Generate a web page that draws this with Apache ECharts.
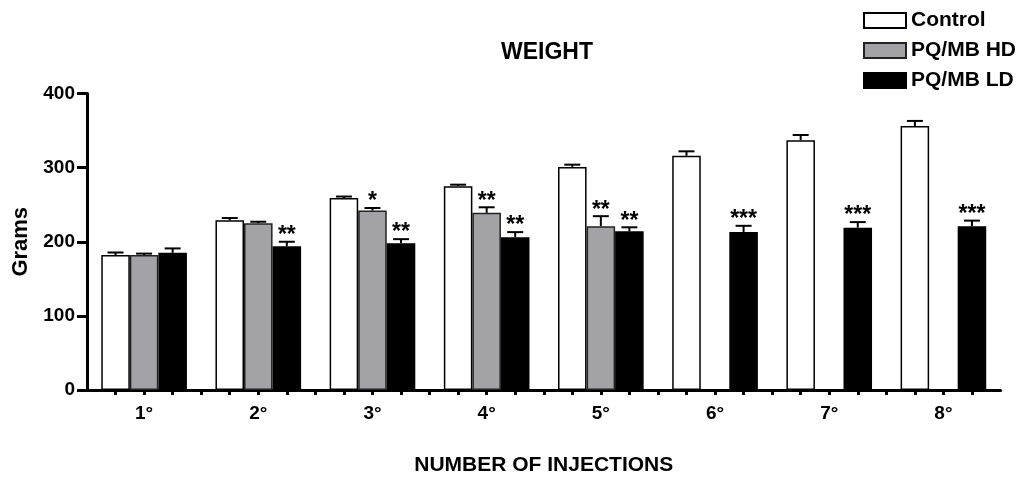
<!DOCTYPE html>
<html>
<head>
<meta charset="utf-8">
<script src="https://cdn.jsdelivr.net/npm/echarts@6/dist/echarts.min.js"></script>
<style>
html, body { margin: 0; background: #fff; }
#chart { width: 1026px; height: 493px; }
</style>
</head>
<body>
<div id="chart"></div>
<script>
var injections = ['1°', '2°', '3°', '4°', '5°', '6°', '7°', '8°'];
var seriesNames = ['Control', 'PQ/MB HD', 'PQ/MB LD'];

var control    = [182, 229, 259, 275, 301, 316, 337, 356];
var controlErr = [3.5, 3, 2, 2, 3, 6, 7, 7];
var hd         = [182, 225, 242, 239, 221, null, null, null];
var hdErr      = [2, 2, 3.5, 7.5, 13.5, null, null, null];
var ld         = [185, 194, 198, 206, 214, 213, 219, 221];
var ldErr      = [6, 6, 5.5, 7, 5.5, 8.5, 7.5, 7.5];

var controlStars = ['', '', '', '', '', '', '', ''];
var hdStars      = ['', '', '*', '**', '**', '', '', ''];
var ldStars      = ['', '**', '**', '**', '**', '***', '***', '***'];

var yTicks = [0, 100, 200, 300, 400];

// every bar takes one slot, groups of 3 bars + 1 empty slot, one empty slot in front
var slotCount = 1 + injections.length * 4;
var slots = [];
for (var i = 0; i < slotCount; i++) slots.push('s' + i);

function slotOf(g, s) { return 1 + g * 4 + s; }

function toSlots(values, s) {
	var out = [];
	for (var i = 0; i < slotCount; i++) out.push('-');
	values.forEach(function (v, g) {
		if (v != null) out[slotOf(g, s)] = v;
	});
	return out;
}

var errData = [];
var errStars = [];
[[control, controlErr, controlStars], [hd, hdErr, hdStars], [ld, ldErr, ldStars]].forEach(function (set, s) {
	set[0].forEach(function (v, g) {
		if (v == null) return;
		errData.push([slotOf(g, s), v, set[1][g]]);
		errStars.push(set[2][g]);
	});
});

var font = '"Liberation Sans", Arial, Helvetica, sans-serif';

function renderErr(params, api) {
	var idx = api.value(0), v = api.value(1), e = api.value(2);
	var top = api.coord([idx, v]);
	var hi = api.coord([idx, v + e]);
	var half = api.size([1, 0])[0] * 0.28;
	var star = errStars[params.dataIndex];
	var children = [
		{ type: 'line', shape: { x1: top[0], y1: top[1], x2: hi[0], y2: hi[1] }, style: { stroke: '#000', lineWidth: 2 } },
		{ type: 'line', shape: { x1: hi[0] - half, y1: hi[1], x2: hi[0] + half, y2: hi[1] }, style: { stroke: '#000', lineWidth: 2 } }
	];
	if (star) {
		children.push({
			type: 'text',
			style: {
				x: hi[0], y: hi[1] - 6, text: star, fill: '#000',
				font: 'bold 23px ' + font, align: 'center', verticalAlign: 'middle'
			}
		});
	}
	return { type: 'group', children: children };
}

var colors = ['#ffffff', '#a3a3a7', '#000000'];

var myChart = echarts.init(document.getElementById('chart'));
var option = {
	animation: false,
	backgroundColor: '#fff',
	title: {
		text: 'WEIGHT',
		left: 496,
		top: 36,
		textStyle: { fontFamily: font, fontWeight: 'bold', fontSize: 23, color: '#000' }
	},
	legend: {
		data: seriesNames,
		orient: 'vertical',
		left: 858,
		top: 5,
		icon: 'rect',
		itemWidth: 42,
		itemHeight: 15,
		itemGap: 9,
		itemTextGap: 7,
		textStyle: { fontFamily: font, fontWeight: 'bold', fontSize: 21, color: '#000' }
	},
	grid: { left: 87, top: 93.5, bottom: 103, right: 25.5, containLabel: false },
	xAxis: {
		type: 'category',
		data: slots,
		boundaryGap: false,
		name: 'NUMBER OF INJECTIONS',
		nameLocation: 'middle',
		nameGap: 65,
		nameTextStyle: { fontFamily: font, fontWeight: 'bold', fontSize: 21, color: '#000' },
		axisLine: { lineStyle: { color: '#000', width: 3 } },
		axisTick: {
			interval: function (index) { return index > 0 && index < slotCount - 1; },
			length: 5,
			lineStyle: { color: '#000', width: 3 }
		},
		axisLabel: {
			interval: 0,
			margin: 14,
			fontFamily: font, fontWeight: 'bold', fontSize: 19, color: '#000',
			formatter: function (value, index) {
				var g = (index - 2) / 4;
				return (g >= 0 && g === Math.floor(g)) ? injections[g] : '';
			}
		},
		splitLine: { show: false }
	},
	yAxis: {
		type: 'value',
		min: yTicks[0],
		max: yTicks[yTicks.length - 1],
		interval: 100,
		name: 'Grams',
		nameLocation: 'middle',
		nameGap: 55,
		nameTextStyle: { fontFamily: font, fontWeight: 'bold', fontSize: 22, color: '#000' },
		axisLine: { show: true, lineStyle: { color: '#000', width: 3 } },
		axisTick: { show: true, length: 10, lineStyle: { color: '#000', width: 3 } },
		axisLabel: { margin: 12, fontFamily: font, fontWeight: 'bold', fontSize: 19, color: '#000' },
		splitLine: { show: false }
	},
	series: [
		{
			name: seriesNames[0], type: 'bar', data: toSlots(control, 0),
			barWidth: '100%', barGap: '-100%',
			itemStyle: { color: colors[0], borderColor: '#000', borderWidth: 1.5 }
		},
		{
			name: seriesNames[1], type: 'bar', data: toSlots(hd, 1),
			barWidth: '100%', barGap: '-100%',
			itemStyle: { color: colors[1], borderColor: '#222', borderWidth: 1.5 }
		},
		{
			name: seriesNames[2], type: 'bar', data: toSlots(ld, 2),
			barWidth: '100%', barGap: '-100%',
			itemStyle: { color: colors[2], borderColor: '#000', borderWidth: 1.5 }
		},
		{
			type: 'custom',
			renderItem: renderErr,
			data: errData,
			z: 5,
			silent: true
		}
	]
};
myChart.setOption(option);
</script>
</body>
</html>
